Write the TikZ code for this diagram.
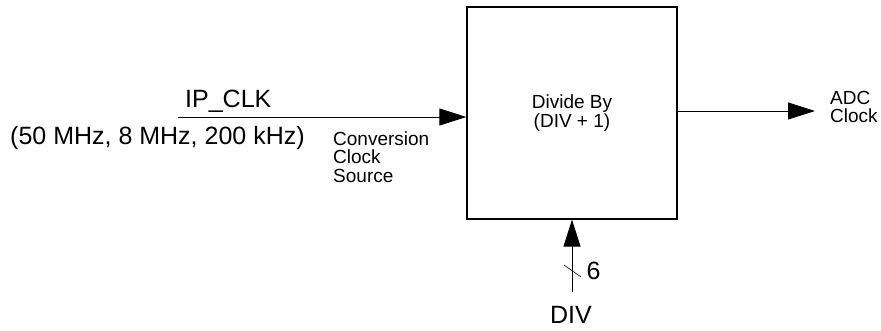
\documentclass[tikz,border=0pt]{standalone}
\usepackage{fontspec}
\setmainfont{Liberation Sans}
\usetikzlibrary{arrows.meta,positioning}

\begin{document}
\begin{tikzpicture}[
        x=1pt, y=-1pt,
        every node/.style={inner sep=0pt},
        bigtxt/.style={font=\fontsize{25}{28}\selectfont},
        smalltxt/.style={font=\fontsize{19}{18.5}\selectfont},
        divbox/.style={
            draw,
            line width=1.3pt,
            minimum width=210pt,
            minimum height=212pt,
            align=center,
            smalltxt
        },
        sig/.style={-{Triangle[length=27pt,width=17pt]}, line width=0.9pt}
    ]
    \useasboundingbox (0,0) rectangle (881,331);

    % =========================
    % divider block
    % =========================
    \node[divbox] (divider) at (572,113) {Divide By\\(DIV + 1)};

    % =========================
    % clock input
    % =========================
    \coordinate (clkstart) at (178,117);
    \draw[sig] (clkstart) -- (divider.west |- clkstart);

    \node[bigtxt, anchor=base west] (ipclk) at (185,108) {IP\_CLK};
    \node[bigtxt, anchor=base west] (freqs) at (10,144.5) {(50 MHz, 8 MHz, 200 kHz)};
    \node[smalltxt, anchor=north west, align=left] (convsrc) at (333,131.5)
        {Conversion\\Clock\\Source};

    % =========================
    % clock output
    % =========================
    \coordinate (adcend) at (815,111);
    \draw[sig] (divider.east |- adcend) -- (adcend);
    \node[smalltxt, anchor=west, align=left] (adcclk) at (830,107) {ADC\\Clock};

    % =========================
    % DIV bus
    % =========================
    \node[bigtxt] (divlbl) at (571,315) {DIV};
    \coordinate (divstart) at (572,292);
    \draw[sig] (divstart) -- (divider.south -| divstart);
    \draw[line width=0.6pt] (564,265) -- (581,277);
    \node[bigtxt] (buswidth) at (593.5,270.5) {6};

\end{tikzpicture}
\end{document}
